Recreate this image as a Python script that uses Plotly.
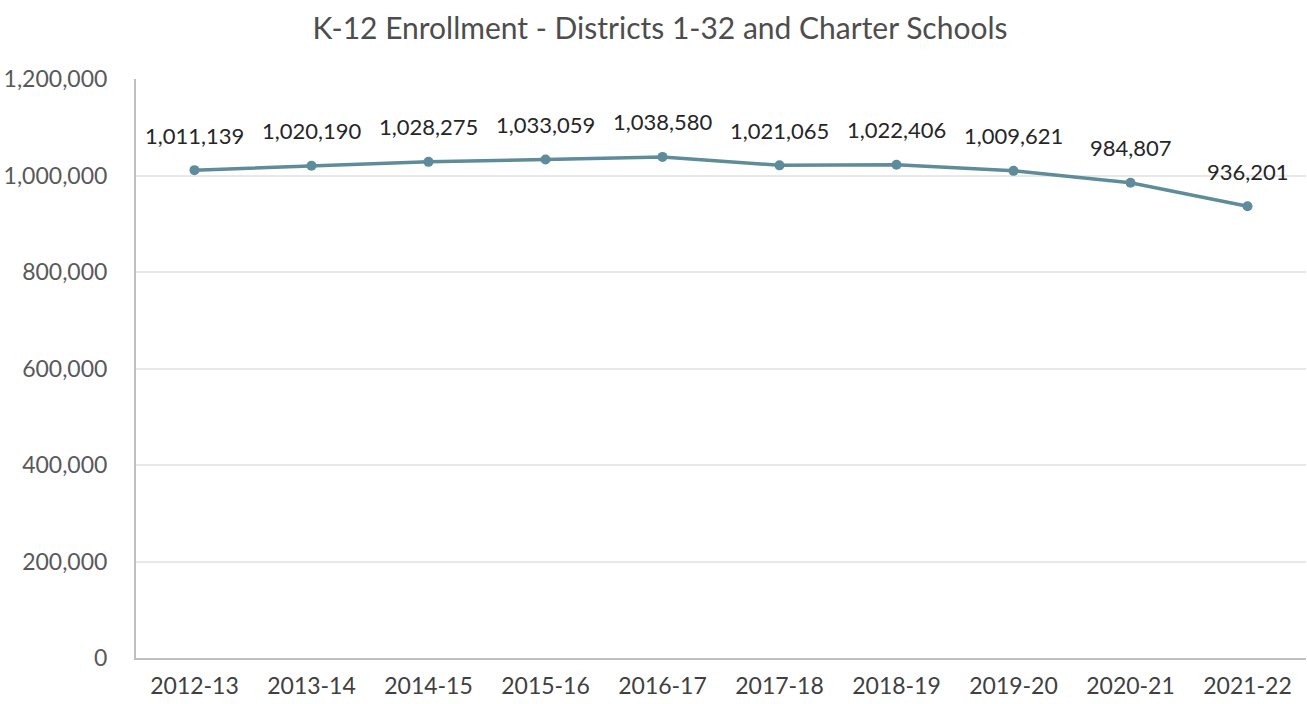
import plotly.graph_objects as go

years = ["2012-13", "2013-14", "2014-15", "2015-16", "2016-17",
         "2017-18", "2018-19", "2019-20", "2020-21", "2021-22"]
enrollment = [1011139, 1020190, 1028275, 1033059, 1038580,
              1021065, 1022406, 1009621, 984807, 936201]
y_ticks = [0, 200000, 400000, 600000, 800000, 1000000, 1200000]

LINE = "#5E8C9A"
FONT = "Lato, 'Open Sans', sans-serif"

fig = go.Figure()
fig.add_trace(go.Scatter(
    x=years, y=enrollment, mode="lines+markers",
    line=dict(color=LINE, width=3.5),
    marker=dict(color=LINE, size=10),
    hoverinfo="x+y", showlegend=False,
))

annotations = [
    dict(x=x, y=v, xref="x", yref="y", text=f"{v:,}", showarrow=False,
         yshift=35, font=dict(family=FONT, size=22, color="#262626"))
    for x, v in zip(years, enrollment)
]

fig.update_layout(
    width=1307, height=704,
    paper_bgcolor="white", plot_bgcolor="white",
    margin=dict(l=136, r=1, t=79, b=46, autoexpand=False),
    title=dict(text="K-12 Enrollment - Districts 1-32 and Charter Schools",
               x=0.505, xanchor="center", y=0.96, yanchor="middle",
               font=dict(family=FONT, size=30, color="#4D4D4D")),
    font=dict(family=FONT, size=22, color="#595959"),
    annotations=annotations,
    xaxis=dict(type="category", range=[-0.5, len(years) - 0.5],
               showgrid=False, showline=True,
               linecolor="#BFBFBF", linewidth=2, ticks="",
               tickfont=dict(family=FONT, size=23, color="#404040"),
               ticklabelstandoff=6, fixedrange=True, automargin=False),
    yaxis=dict(range=[0, 1200000], tickvals=y_ticks,
               ticktext=[f"{t:,}" for t in y_ticks],
               showgrid=True, gridcolor="#E8E8E8", gridwidth=1.5,
               showline=True, linecolor="#BFBFBF", linewidth=2,
               zeroline=False, ticks="",
               tickfont=dict(family=FONT, size=23, color="#595959"),
               ticklabelstandoff=22, fixedrange=True, automargin=False),
)

fig.write_html("out.html",
               config={"displayModeBar": False},
               post_script="document.body.style.margin='0';"
                           "document.body.style.overflow='hidden';")
